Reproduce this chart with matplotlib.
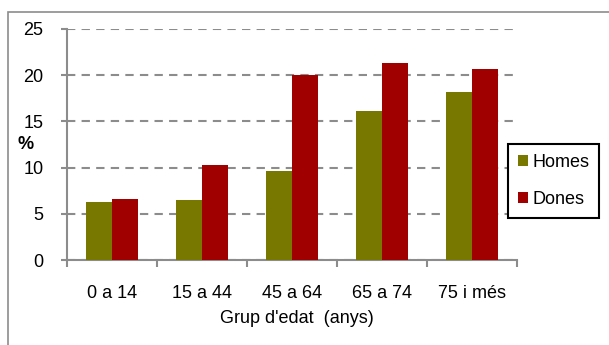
import matplotlib.pyplot as plt
import numpy as np
from matplotlib.patches import Rectangle

plt.rcParams['font.family'] = ['Liberation Sans', 'DejaVu Sans']

grups = ['0 a 14', '15 a 44', '45 a 64', '65 a 74', '75 i més']
homes = [6.3, 6.5, 9.6, 16.1, 18.2]
dones = [6.6, 10.3, 20.0, 21.3, 20.7]

verd = '#787800'
vermell = '#a00000'
gris = '#8c8c8c'
fs = 13

fig = plt.figure(figsize=(6.09, 3.45), dpi=100)
ax = fig.add_axes([0.110, 0.246, 0.739, 0.670])

x = np.arange(len(grups))
w = 0.285
ax.bar(x - w / 2, homes, w, color=verd, label='Homes', zorder=3)
ax.bar(x + w / 2, dones, w, color=vermell, label='Dones', zorder=3)

ax.set_ylim(0, 25)
ax.set_xlim(-0.5, len(grups) - 0.5)
ax.set_yticks(range(0, 26, 5))
ax.yaxis.grid(True, color=gris, linestyle=(0, (4, 3)), linewidth=1.5, zorder=0)
ax.set_axisbelow(True)

ax.set_xticks(x)
ax.set_xticklabels(grups, fontsize=fs)
ax.set_xticks(np.arange(-0.5, len(grups), 1), minor=True)
ax.tick_params(axis='x', which='major', length=0, pad=18)
ax.tick_params(axis='x', which='minor', length=5, width=1.5, color=gris)
ax.tick_params(axis='y', length=4, width=1.5, color=gris, labelsize=fs, pad=13)

for s in ['top', 'right']:
    ax.spines[s].set_visible(False)
for s in ['left', 'bottom']:
    ax.spines[s].set_color(gris)
    ax.spines[s].set_linewidth(1.5)

fig.text(0.042, 0.58, '%', fontsize=fs, fontweight='bold', ha='center', va='center')
fig.text(0.488, 0.078, "Grup d'edat  (anys)", fontsize=fs, ha='center', va='center')

leg = fig.legend(loc='upper left', bbox_to_anchor=(0.834, 0.583), fontsize=fs,
                 fancybox=False, edgecolor='black', framealpha=1,
                 handlelength=0.55, handleheight=0.55, handletextpad=0.25,
                 labelspacing=1.1, borderpad=0.55, borderaxespad=0)
leg.get_frame().set_linewidth(1.5)

# outer chart border (runs off the right and bottom edges)
fig.add_artist(Rectangle((0.0125, -0.1), 1.1, 1.065, transform=fig.transFigure,
                         fill=False, edgecolor=gris, linewidth=1.2))

fig.savefig('out.png', dpi=100)
